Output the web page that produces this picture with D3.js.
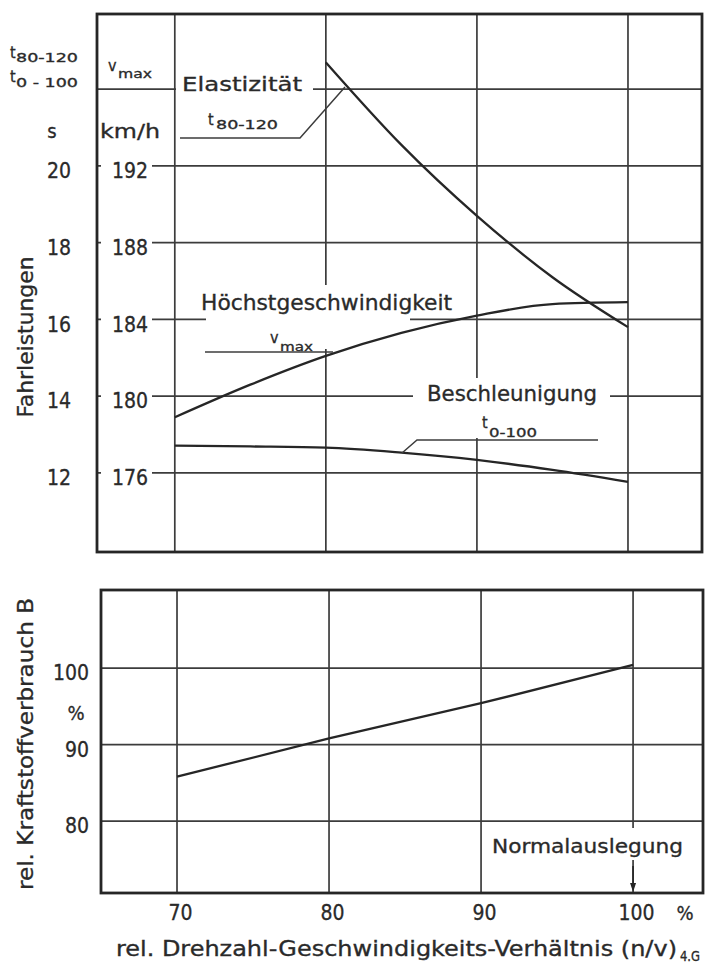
<!DOCTYPE html>
<html>
<head>
<meta charset="utf-8">
<script src="https://cdn.jsdelivr.net/npm/d3@7"></script>
<style>
  html, body { margin: 0; padding: 0; background: #fff; }
  svg { display: block; }
  text { font-family: "DejaVu Sans Condensed", "DejaVu Sans", sans-serif; fill: #2a2a2a; stroke: #2a2a2a; stroke-width: 0.3; }
</style>
</head>
<body>
<svg id="chart" width="705" height="974"></svg>
<script>
// Relative engine speed / road speed ratio (%) on the common x axis
const xTicks = [70, 80, 90, 100];

// Elasticity t80-120 (s)
const elastX = [80, 85, 90, 95, 100];
const elastS = [22.7, 20.55, 18.7, 17.1, 15.8];

// Top speed vmax (km/h)
const vmaxX = [70, 75, 80, 85, 90, 95, 100];
const vmaxKmh = [178.9, 180.6, 182.1, 183.3, 184.2, 184.8, 184.9];

// Acceleration t0-100 (s)
const accelX = [70, 75, 80, 85, 90, 95, 100];
const accelS = [12.71, 12.69, 12.66, 12.53, 12.34, 12.08, 11.77];

// Relative fuel consumption B (%)
const fuelX = [70, 80, 90, 100];
const fuelPct = [85.8, 90.8, 95.4, 100.4];

// Axis ticks
const kmhTicks = [176, 180, 184, 188, 192];
const kmhGrid = [176, 180, 184, 188, 192, 196];
const sTicks = [12, 14, 16, 18, 20];
const fuelTicks = [80, 90, 100];

const svg = d3.select("#chart");
const INK = "#262626";
const GRID = "#3c3c3c";
const TXT = "#2a2a2a";

// ---------- scales ----------
const topBox = { l: 97, r: 702, t: 14, b: 552 };
const botBox = { l: 101, r: 703, t: 590, b: 893 };

const xTop = d3.scaleLinear().domain([64.85, 104.9]).range([topBox.l, topBox.r]);
const xBot = d3.scaleLinear().domain([65, 104.6]).range([botBox.l, botBox.r]);
const kmhDomain = [171.88, 199.92];
const yKmh = d3.scaleLinear().domain(kmhDomain).range([topBox.b, topBox.t]);
// seconds share the grid with km/h: 2 km/h per second, 192 km/h <-> 20 s
const kmhToS = v => 20 + (v - 192) / 2;
const yS = d3.scaleLinear().domain(kmhDomain.map(kmhToS)).range([topBox.b, topBox.t]);
const yFuel = d3.scaleLinear().domain([70.6, 110.2]).range([botBox.b, botBox.t]);

// text helper: optional fixed width via textLength
function label(g, o) {
  const t = g.append("text")
    .attr("x", o.x).attr("y", o.y)
    .attr("font-size", o.size || 20)
    .attr("text-anchor", o.anchor || "start")
    .text(o.text);
  if (o.width) t.attr("textLength", o.width).attr("lengthAdjust", "spacingAndGlyphs");
  if (o.rotate) t.attr("transform", `rotate(-90, ${o.x}, ${o.y})`);
  return t;
}

// ---------- upper panel: driving performance ----------
const perfG = svg.append("g");

// grid
perfG.selectAll("line.hgrid").data(kmhGrid).join("line")
  .attr("x1", topBox.l).attr("x2", topBox.r)
  .attr("y1", d => yKmh(d)).attr("y2", d => yKmh(d))
  .attr("stroke", GRID).attr("stroke-width", 1.7);
perfG.selectAll("line.vgrid").data(xTicks).join("line")
  .attr("x1", d => xTop(d)).attr("x2", d => xTop(d))
  .attr("y1", topBox.t).attr("y2", topBox.b)
  .attr("stroke", GRID).attr("stroke-width", 1.7);

// white knock-outs behind in-plot lettering
const knock = [
  [101, 100, 51, 400],   // km/h tick labels column
  [176, 68, 137, 62],    // Elastizität / t80-120
  [198, 285, 259, 28],   // Höchstgeschwindigkeit
  [206, 313, 204, 36],   // vmax
  [413, 378, 197, 60]    // Beschleunigung / t0-100
];
perfG.selectAll("rect.knock").data(knock).join("rect")
  .attr("x", d => d[0]).attr("y", d => d[1]).attr("width", d => d[2]).attr("height", d => d[3])
  .attr("fill", "#fff");

// header lettering, left of the frame
label(perfG, { x: 10, y: 58, text: "t", size: 16 });
label(perfG, { x: 16, y: 62, text: "80-120", size: 13, width: 62 });
label(perfG, { x: 10, y: 82, text: "t", size: 16 });
label(perfG, { x: 16, y: 87, text: "0 - 100", size: 13, width: 62 });
label(perfG, { x: 108, y: 71, text: "v", size: 16 });
label(perfG, { x: 118, y: 78, text: "max", size: 12, width: 34 });
label(perfG, { x: 52, y: 138, text: "s", size: 20, anchor: "middle" });
label(perfG, { x: 100, y: 138, text: "km/h", size: 20, width: 60 });

// km/h axis
const kmhAxis = perfG.append("g").attr("transform", "translate(148,5)")
  .call(d3.axisLeft(yKmh).tickValues(kmhTicks).tickSize(0).tickPadding(0).tickFormat(d3.format("d")));
kmhAxis.select(".domain").remove();
kmhAxis.selectAll("text").attr("font-size", 21).attr("font-family", null).attr("fill", TXT);

// seconds axis
const sAxis = perfG.append("g").attr("transform", "translate(59,5)")
  .call(d3.axisLeft(yS).tickValues(sTicks).tickSize(0).tickPadding(0).tickFormat(d3.format("d")));
sAxis.select(".domain").remove();
sAxis.selectAll("text").attr("font-size", 21).attr("text-anchor", "middle").attr("font-family", null).attr("fill", TXT);

label(perfG, { x: 33, y: 337, text: "Fahrleistungen", size: 21, anchor: "middle", rotate: true, width: 161 });

// curve labels
label(perfG, { x: 182, y: 91, text: "Elastizität", size: 20, width: 120 });
label(perfG, { x: 208, y: 125, text: "t", size: 16 });
label(perfG, { x: 216, y: 129, text: "80-120", size: 13, width: 62 });
label(perfG, { x: 201, y: 310, text: "Höchstgeschwindigkeit", size: 21, width: 251 });
label(perfG, { x: 270, y: 343, text: "v", size: 16 });
label(perfG, { x: 280, y: 351, text: "max", size: 12, width: 33 });
label(perfG, { x: 427, y: 401, text: "Beschleunigung", size: 21, width: 170 });
label(perfG, { x: 482, y: 428, text: "t", size: 16 });
label(perfG, { x: 489, y: 437, text: "0-100", size: 13, width: 48 });

// curves
const lineS = (xs, ys) => d3.line().curve(d3.curveMonotoneX)
  .x((d, i) => xTop(xs[i])).y(d => yS(d))(ys);
const lineKmh = d3.line().curve(d3.curveMonotoneX)
  .x((d, i) => xTop(vmaxX[i])).y(d => yKmh(d));

perfG.append("path").attr("d", lineS(elastX, elastS))
  .attr("fill", "none").attr("stroke", INK).attr("stroke-width", 2.3);
perfG.append("path").attr("d", lineKmh(vmaxKmh))
  .attr("fill", "none").attr("stroke", INK).attr("stroke-width", 2.3);
perfG.append("path").attr("d", lineS(accelX, accelS))
  .attr("fill", "none").attr("stroke", INK).attr("stroke-width", 2.3);

// leader lines from labels to curves
const leaders = [
  [[180, 138], [300, 138], [345, 87]],
  [[205, 352], [333, 352]],
  [[598, 440], [417, 440], [402, 453]]
];
perfG.selectAll("path.leader").data(leaders).join("path")
  .attr("d", d => d3.line()(d))
  .attr("fill", "none").attr("stroke", GRID).attr("stroke-width", 1.5);

// frame
perfG.append("rect")
  .attr("x", topBox.l).attr("y", topBox.t)
  .attr("width", topBox.r - topBox.l).attr("height", topBox.b - topBox.t)
  .attr("fill", "none").attr("stroke", INK).attr("stroke-width", 2.8);

// ---------- lower panel: relative fuel consumption ----------
const fuelG = svg.append("g");

fuelG.selectAll("line.hgrid").data(fuelTicks).join("line")
  .attr("x1", botBox.l).attr("x2", botBox.r)
  .attr("y1", d => yFuel(d)).attr("y2", d => yFuel(d))
  .attr("stroke", GRID).attr("stroke-width", 1.7);
fuelG.selectAll("line.vgrid").data(xTicks).join("line")
  .attr("x1", d => xBot(d)).attr("x2", d => xBot(d))
  .attr("y1", botBox.t).attr("y2", botBox.b)
  .attr("stroke", GRID).attr("stroke-width", 1.7);

// knock-out behind the design-point note
fuelG.append("rect").attr("x", 488).attr("y", 828).attr("width", 200).attr("height", 32).attr("fill", "#fff");

const fuelLine = d3.line()
  .x((d, i) => xBot(fuelX[i])).y(d => yFuel(d));
fuelG.append("path").attr("d", fuelLine(fuelPct))
  .attr("fill", "none").attr("stroke", INK).attr("stroke-width", 2.3);

const fuelAxis = fuelG.append("g").attr("transform", "translate(89,5)")
  .call(d3.axisLeft(yFuel).tickValues(fuelTicks).tickSize(0).tickPadding(0).tickFormat(d3.format("d")));
fuelAxis.select(".domain").remove();
fuelAxis.selectAll("text").attr("font-size", 21).attr("font-family", null).attr("fill", TXT);
label(fuelG, { x: 76, y: 720, text: "%", size: 20, anchor: "middle" });

label(fuelG, { x: 33, y: 744, text: "rel. Kraftstoffverbrauch B", size: 21, anchor: "middle", rotate: true, width: 292 });

label(fuelG, { x: 492, y: 853, text: "Normalauslegung", size: 20, width: 191 });
// design-point arrow at 100 %
fuelG.append("line")
  .attr("x1", xBot(100)).attr("x2", xBot(100))
  .attr("y1", 866).attr("y2", botBox.b - 6)
  .attr("stroke", INK).attr("stroke-width", 1.6);
fuelG.append("path")
  .attr("d", d3.line()([[xBot(100) - 3, botBox.b - 10], [xBot(100) + 3, botBox.b - 10], [xBot(100), botBox.b - 1]]) + "Z")
  .attr("fill", INK);

fuelG.append("rect")
  .attr("x", botBox.l).attr("y", botBox.t)
  .attr("width", botBox.r - botBox.l).attr("height", botBox.b - botBox.t)
  .attr("fill", "none").attr("stroke", INK).attr("stroke-width", 2.8);

// x axis
const xAxis = fuelG.append("g").attr("transform", `translate(3,${botBox.b + 12})`)
  .call(d3.axisBottom(xBot).tickValues(xTicks).tickSize(0).tickPadding(0).tickFormat(d3.format("d")));
xAxis.select(".domain").remove();
xAxis.selectAll("text").attr("font-size", 21).attr("font-family", null).attr("fill", TXT);
label(fuelG, { x: 685, y: 920, text: "%", size: 20, anchor: "middle" });

label(fuelG, { x: 116, y: 956, text: "rel. Drehzahl-Geschwindigkeits-Verhältnis (n/v)", size: 21, width: 561 });
label(fuelG, { x: 680, y: 961, text: "4.G", size: 14, width: 20 });
</script>
</body>
</html>
